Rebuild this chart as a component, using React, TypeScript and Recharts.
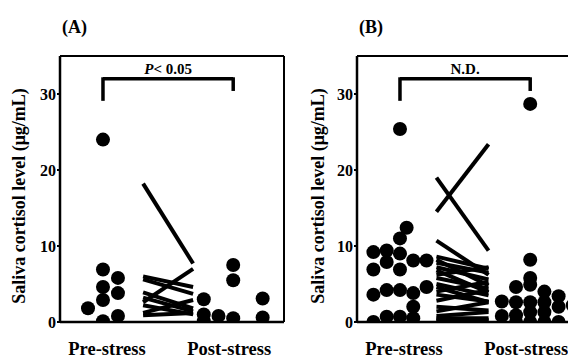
import { ScatterChart, Scatter, XAxis, YAxis, ReferenceLine } from 'recharts';

const categories = ['Pre-stress', 'Post-stress'];
const yTicks = [0, 10, 20, 30];
const yLabel = 'Saliva cortisol level (μg/mL)';

// panel A: individual values and their swarm column
const preA = [24.0, 6.9, 4.6, 2.9, 0.1, 1.8, 5.8, 3.8, 0.8];
const preColsA = [0, 0, 0, 0, 0, -1, 1, 1, 1];
const postA = [3.0, 1.0, 0.1, 0.8, 7.5, 5.5, 0.5, 3.1, 0.6];
const postColsA = [-2, -2, -2, -1, 0, 0, 0, 2, 2];
const pairStartA = [18.2, 6.0, 5.6, 3.9, 2.6, 3.2, 1.2, 2.2, 0.9];
const pairEndA = [7.7, 4.6, 3.7, 1.8, 7.0, 1.4, 2.9, 1.0, 1.2];

// panel B
const preB = [25.4, 12.4, 11.0, 9.2, 9.4, 9.0, 6.9, 7.9, 6.9, 8.1, 8.1, 3.6, 4.2, 4.2, 3.8, 4.6, 2.0, 0.0, 0.7, 0.7, 0.5];
const preColsB = [0, 0.5, 0, -2, -1, 0, -2, -1, 0, 1, 2, -2, -1, 0, 1, 2, 1, -2, -1, 0, 1];
const postB = [28.7, 8.2, 5.8, 4.9, 4.6, 4.0, 3.4, 2.7, 2.6, 2.6, 2.6, 2.0, 0.8, 0.9, 0.0, 1.3, 0.0, 1.3, 0.0, 0.0, 2.2];
const postColsB = [0, 0, 0, 0, -1, 1, 2, -2, -1, 0, 1, 2, -2, -1, -1, 0, 0, 1, 1, 2, 3];
const pairStartB = [19.0, 14.5, 10.7, 8.6, 8.2, 7.8, 7.2, 6.8, 6.2, 5.8, 5.0, 4.6, 4.0, 3.6, 2.8, 2.0, 1.4, 0.8, 0.5, 0.3, 0.2];
const pairEndB = [9.4, 23.4, 6.2, 7.0, 4.8, 6.5, 5.6, 3.9, 7.2, 4.4, 3.5, 2.6, 5.3, 2.7, 4.2, 1.5, 2.6, 1.3, 0.5, 0.3, 0.2];

const bracketY = 32;
const bracketLegs = [29.1, 30.4];

const FONT = '"Liberation Serif", "Times New Roman", serif';

type PanelProps = {
  title: string;
  left: number;
  pre: number[];
  preCols: number[];
  post: number[];
  postCols: number[];
  starts: number[];
  ends: number[];
  preStep: number;
  postStep: number;
  lineFrom: number;
  lineTo: number;
  labelX: number;
  italic: string;
  note: string;
};

function Panel(p: PanelProps) {
  const preData = p.pre.map((v, i) => ({ x: 1 + p.preCols[i] * p.preStep, y: v }));
  const postData = p.post.map((v, i) => ({ x: 2 + p.postCols[i] * p.postStep, y: v }));
  const dot = (s: any) => <circle cx={s.cx} cy={s.cy} r={7} fill="#000" />;

  const renderTick = (t: any) => {
    const idx = t.payload.value === 1 ? 0 : 1;
    return (
      <text x={t.x + (idx === 0 ? 4 : -4)} y={t.y + 31} textAnchor="middle" fontFamily={FONT} fontWeight="bold" fontSize={18.5} fill="#000">
        {categories[idx]}
      </text>
    );
  };

  const renderBracketText = (l: any) => {
    const vb = l.viewBox || {};
    const cx = (vb.x ?? 0) + (vb.width ?? 0) / 2;
    return (
      <text x={cx} y={(vb.y ?? 0) - 5} textAnchor="middle" fontFamily={FONT} fontWeight="bold" fontSize={15} fill="#000">
        {p.italic && <tspan fontStyle="italic">{p.italic}</tspan>}
        {p.note}
      </text>
    );
  };

  return (
    <div style={{ position: 'absolute', left: p.left, top: 0 }}>
      <div style={{ position: 'absolute', left: 62, top: 18, fontFamily: FONT, fontWeight: 'bold', fontSize: 18, lineHeight: '18px', color: '#000' }}>
        {p.title}
      </div>
      <ScatterChart width={290} height={358} margin={{ top: 56, right: 6, bottom: 0, left: 0 }}>
        <XAxis
          type="number"
          dataKey="x"
          domain={[0.67, 2.39]}
          ticks={[1, 2]}
          allowDataOverflow
          height={36}
          tickSize={0}
          tickLine={false}
          tick={renderTick}
          axisLine={{ stroke: '#000', strokeWidth: 2.5 }}
        />
        <YAxis
          type="number"
          dataKey="y"
          domain={[0, 35]}
          ticks={yTicks}
          allowDataOverflow
          width={60}
          tickSize={3}
          tickMargin={1}
          tickLine={{ stroke: '#000', strokeWidth: 2 }}
          axisLine={{ stroke: '#000', strokeWidth: 2.5 }}
          tick={{ fill: '#000', fontSize: 16, fontWeight: 'bold', fontFamily: FONT }}
          label={() => (
            <text
              x={p.labelX}
              y={196}
              transform={`rotate(-90 ${p.labelX} 196)`}
              textAnchor="middle"
              dominantBaseline="central"
              fontFamily={FONT}
              fontWeight="bold"
              fontSize={18}
              fill="#000"
            >
              {yLabel}
            </text>
          )}
        />
        <ReferenceLine y={35} stroke="#000" strokeWidth={2} />
        <ReferenceLine x={2.39} stroke="#000" strokeWidth={2} />
        <ReferenceLine
          segment={[{ x: 1, y: bracketY }, { x: 2, y: bracketY }]}
          stroke="#000"
          strokeWidth={3.5}
          label={renderBracketText}
        />
        <ReferenceLine segment={[{ x: 1, y: bracketLegs[0] }, { x: 1, y: bracketY + 0.2 }]} stroke="#000" strokeWidth={3.5} />
        <ReferenceLine segment={[{ x: 2, y: bracketLegs[1] }, { x: 2, y: bracketY + 0.2 }]} stroke="#000" strokeWidth={3.5} />
        {p.starts.map((s, i) => (
          <Scatter
            key={'l' + i}
            data={[{ x: p.lineFrom, y: s }, { x: p.lineTo, y: p.ends[i] }]}
            fill="#000"
            stroke="#000"
            strokeWidth={4}
            line={{ stroke: '#000', strokeWidth: 4 }}
            shape={() => <g />}
            isAnimationActive={false}
          />
        ))}
        <Scatter data={preData} shape={dot} isAnimationActive={false} />
        <Scatter data={postData} shape={dot} isAnimationActive={false} />
      </ScatterChart>
    </div>
  );
}

export default function App() {
  return (
    <div style={{ position: 'absolute', left: 0, top: 0, width: 568, height: 358, overflow: 'hidden', background: '#fff' }}>
      <Panel
        title="(A)"
        left={0}
        pre={preA}
        preCols={preColsA}
        post={postA}
        postCols={postColsA}
        starts={pairStartA}
        ends={pairEndA}
        preStep={0.115}
        postStep={0.113}
        lineFrom={1.308}
        lineTo={1.692}
        labelX={19}
        italic="P"
        note="< 0.05"
      />
      <Panel
        title="(B)"
        left={297}
        pre={preB}
        preCols={preColsB}
        post={postB}
        postCols={postColsB}
        starts={pairStartB}
        ends={pairEndB}
        preStep={0.102}
        postStep={0.109}
        lineFrom={1.28}
        lineTo={1.68}
        labelX={21}
        italic=""
        note="N.D."
      />
    </div>
  );
}
